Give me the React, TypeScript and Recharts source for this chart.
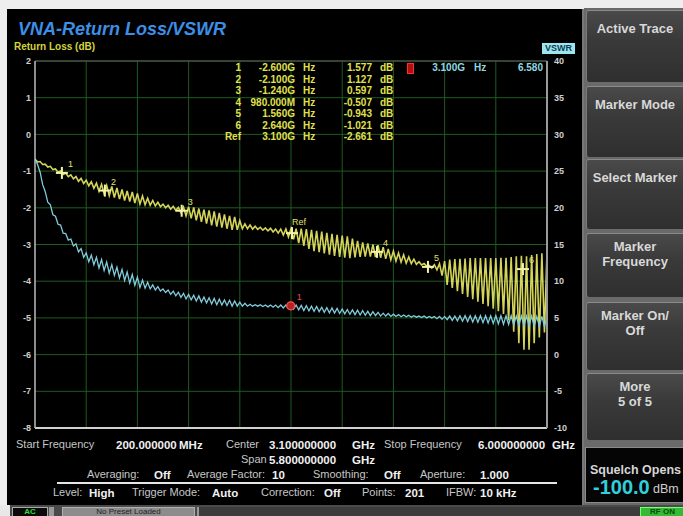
import React from 'react';
import { ComposedChart, Line, XAxis, YAxis, CartesianGrid, ReferenceLine, Scatter } from 'recharts';

const FONT = '"Liberation Sans", Arial, sans-serif';

// Return loss trace (yellow), dB, 201 sweep points
const yellowTrace = [
  -0.68, -0.75, -0.74, -0.82, -0.81, -0.89, -0.87, -0.96, -0.94, -1.03, -1.00,
  -1.09, -1.05, -1.15, -1.10, -1.21, -1.15, -1.28, -1.20, -1.34, -1.25, -1.40, -1.29, -1.47, -1.33, -1.55, -1.36, -1.62,
  -1.39, -1.67, -1.42, -1.72, -1.46, -1.76, -1.50, -1.80, -1.54, -1.83, -1.57, -1.87, -1.61, -1.90, -1.68, -1.92, -1.74, -1.93,
  -1.80, -1.95, -1.85, -1.97, -1.90, -2.00, -1.93, -2.04, -1.96, -2.07, -1.99, -2.13,
  -1.98, -2.22, -1.97, -2.29, -1.99, -2.34, -2.02, -2.38, -2.05, -2.43, -2.07, -2.48, -2.10,
  -2.51, -2.14, -2.54, -2.18, -2.57, -2.22, -2.60, -2.25, -2.60, -2.35, -2.57, -2.44,
  -2.57, -2.47, -2.58, -2.50, -2.59, -2.53, -2.61, -2.55, -2.63, -2.56, -2.66, -2.58, -2.69, -2.58, -2.74, -2.58, -2.79, -2.57,
  -2.86, -2.57, -2.96, -2.57, -3.04, -2.58, -3.12, -2.60, -3.18, -2.63, -3.21, -2.65, -3.24, -2.68, -3.28, -2.71, -3.31,
  -2.74, -3.34, -2.76, -3.36, -2.78, -3.37, -2.84, -3.35, -2.90, -3.34, -2.94, -3.33, -2.97, -3.33, -3.00, -3.34, -3.02,
  -3.36, -3.07, -3.39, -3.12, -3.42, -3.18, -3.45, -3.23, -3.48, -3.28, -3.51, -3.34, -3.52, -3.40, -3.54, -3.47, -3.56, -3.52, -3.59, -3.57,
  -3.64, -3.55, -3.69, -3.52, -3.85, -3.45, -4.10, -3.41, -4.18, -3.40, -4.27, -3.39, -4.35, -3.38, -4.43, -3.37,
  -4.49, -3.37, -4.56, -3.37, -4.62, -3.37, -4.68, -3.37, -4.75, -3.37, -4.82, -3.36, -4.89, -3.36, -5.07, -3.34,
  -5.38, -3.32, -5.69, -3.31, -5.87, -3.32, -5.87, -3.29, -5.69, -3.26, -5.53, -3.24, -5.40, -3.21,
];

// Second trace (cyan), dB, 201 sweep points
const cyanTrace = [
  -0.66, -0.82, -1.03, -1.37, -1.56, -1.85, -1.92, -2.19, -2.23, -2.45, -2.47, -2.69, -2.70, -2.88, -2.85, -3.04,
  -2.98, -3.20, -3.11, -3.35, -3.23,
  -3.47, -3.29, -3.55, -3.35, -3.64, -3.41, -3.71, -3.48, -3.78, -3.55,
  -3.84, -3.62, -3.91, -3.68, -3.98, -3.75, -4.05, -3.82, -4.11, -3.89, -4.17,
  -3.97, -4.19, -4.03, -4.21, -4.10, -4.24, -4.15, -4.27, -4.21,
  -4.31, -4.24, -4.36, -4.27, -4.40, -4.30, -4.44, -4.33, -4.48, -4.36,
  -4.51, -4.38, -4.54, -4.40, -4.57, -4.43, -4.59, -4.45, -4.62, -4.47,
  -4.64, -4.49, -4.65, -4.51, -4.66, -4.52, -4.68, -4.54, -4.68, -4.57, -4.68, -4.60, -4.68,
  -4.63, -4.68, -4.64, -4.68, -4.64, -4.69, -4.65, -4.70, -4.65, -4.71, -4.65, -4.72, -4.65, -4.73, -4.65, -4.74, -4.65,
  -4.76, -4.65, -4.78, -4.66, -4.80, -4.67, -4.81, -4.68, -4.82, -4.69, -4.83, -4.71, -4.85, -4.72, -4.86, -4.73, -4.87, -4.74, -4.88, -4.76,
  -4.89, -4.77, -4.90, -4.78, -4.91, -4.79, -4.92, -4.80, -4.93, -4.82, -4.94, -4.83, -4.94, -4.85, -4.95, -4.87, -4.95, -4.88, -4.96, -4.90,
  -4.96, -4.91, -4.97, -4.92, -4.97, -4.93, -4.98, -4.94, -4.98, -4.95, -4.99, -4.95, -5.00, -4.96, -5.00, -4.96, -5.02, -4.96, -5.04, -4.96,
  -5.05, -4.95, -5.07, -4.95, -5.08, -4.94, -5.09, -4.94, -5.10, -4.94, -5.11, -4.94, -5.12, -4.94, -5.13, -4.94, -5.14, -4.94, -5.15, -4.94,
  -5.16, -4.94, -5.17, -4.94, -5.18, -4.94, -5.19, -4.95, -5.20, -4.95, -5.21, -4.95, -5.21, -4.95, -5.22, -4.96, -5.23, -4.96, -5.24, -4.96,
];

const gridPoints = [0, 20, 40, 60, 80, 100, 120, 140, 160, 180, 200];
const leftTicks = [2, 1, 0, -1, -2, -3, -4, -5, -6, -7, -8];
const rightTicks = [40, 35, 30, 25, 20, 15, 10, 5, 0, -5, -10];

const markerLabels = ['1', '2', '3', 'Ref', '4', '5', '6'];
const markerPoint = [10.5, 27.3, 57.3, 100.4, 133.6, 153.5, 190.6];
const markerLevel = [-1.05, -1.53, -2.08, -2.69, -3.2, -3.61, -3.67];
const redMarkerPoint = [99.9];
const redMarkerLevel = [-4.67];

const tableNums = ['1', '2', '3', '4', '5', '6', 'Ref'];
const tableFreqs = ['-2.600G', '-2.100G', '-1.240G', '980.000M', '1.560G', '2.640G', '3.100G'];
const tableDb = ['1.577', '1.127', '0.597', '-0.507', '-0.943', '-1.021', '-2.661'];

const buttonLabels = [['Active Trace'], ['Marker Mode'], ['Select Marker'], ['Marker', 'Frequency'], ['Marker On/', 'Off'], ['More', '5 of 5']];
const buttonTops = [10, 86, 159, 233, 302, 373];
const buttonBottoms = [82, 157, 229, 297, 370, 440];

type InfoItem = { t: string; x: number; y: number; b: boolean };
const infoItems: InfoItem[] = [
  { t: 'Start Frequency', x: 16, y: 445, b: false },
  { t: '200.000000', x: 116, y: 445, b: true },
  { t: 'MHz', x: 179, y: 445, b: true },
  { t: 'Center', x: 226, y: 445, b: false },
  { t: '3.100000000', x: 269, y: 445, b: true },
  { t: 'GHz', x: 352, y: 445, b: true },
  { t: 'Stop Frequency', x: 384, y: 445, b: false },
  { t: '6.000000000', x: 478, y: 445, b: true },
  { t: 'GHz', x: 552, y: 445, b: true },
  { t: 'Span', x: 241, y: 460, b: false },
  { t: '5.800000000', x: 269, y: 460, b: true },
  { t: 'GHz', x: 352, y: 460, b: true },
  { t: 'Averaging:', x: 87, y: 475, b: false },
  { t: 'Off', x: 154, y: 475, b: true },
  { t: 'Average Factor:', x: 187, y: 475, b: false },
  { t: '10', x: 272, y: 475, b: true },
  { t: 'Smoothing:', x: 313, y: 475, b: false },
  { t: 'Off', x: 384, y: 475, b: true },
  { t: 'Aperture:', x: 420, y: 475, b: false },
  { t: '1.000', x: 480, y: 475, b: true },
  { t: 'Level:', x: 53, y: 493, b: false },
  { t: 'High', x: 89, y: 493, b: true },
  { t: 'Trigger Mode:', x: 132, y: 493, b: false },
  { t: 'Auto', x: 212, y: 493, b: true },
  { t: 'Correction:', x: 261, y: 493, b: false },
  { t: 'Off', x: 324, y: 493, b: true },
  { t: 'Points:', x: 362, y: 493, b: false },
  { t: '201', x: 405, y: 493, b: true },
  { t: 'IFBW:', x: 446, y: 493, b: false },
  { t: '10 kHz', x: 480, y: 493, b: true },
];

const chartData = yellowTrace.map((v, i) => ({ i, y: v, c: cyanTrace[i] }));
const markerData = markerLabels.map((label, k) => ({ i: markerPoint[k], v: markerLevel[k], label }));
const redMarkerData = redMarkerPoint.map((p, k) => ({ i: p, v: redMarkerLevel[k], label: '1' }));

function Txt(props: {
  x: number; y: number; size?: number; bold?: boolean; italic?: boolean; color?: string;
  align?: 'left' | 'right' | 'center'; children: React.ReactNode;
}) {
  const { x, y, size = 11, bold = false, italic = false, color = '#c9c9c9', align = 'left', children } = props;
  const tr = align === 'right' ? 'translateX(-100%)' : align === 'center' ? 'translateX(-50%)' : undefined;
  return (
    <div
      style={{
        position: 'absolute', left: x, top: y - size * 0.6, fontSize: size, lineHeight: `${Math.round(size * 1.2)}px`,
        fontWeight: bold ? 700 : 400, fontStyle: italic ? 'italic' : 'normal', color, whiteSpace: 'nowrap',
        transform: tr, fontFamily: FONT,
      }}
    >
      {children}
    </div>
  );
}

function Box(props: { x: number; y: number; w: number; h: number; style?: React.CSSProperties; children?: React.ReactNode }) {
  return (
    <div style={{ position: 'absolute', left: props.x, top: props.y, width: props.w, height: props.h, boxSizing: 'border-box', ...props.style }}>
      {props.children}
    </div>
  );
}

const YellowMarker = (p: any) => {
  const { cx, cy, payload } = p;
  if (cx == null || cy == null) return null;
  const isRef = payload.label === 'Ref';
  return (
    <g>
      <line x1={cx - 6} x2={cx + 6} y1={cy} y2={cy} stroke="#f4f4a8" strokeWidth={2} />
      <line x1={cx} x2={cx} y1={cy - 6} y2={cy + 6} stroke="#f4f4a8" strokeWidth={2} />
      <text x={isRef ? cx : cx + 6} y={isRef ? cy - 8 : cy - 6} fill="#e2e26a" fontSize={9} fontFamily={FONT}>
        {payload.label}
      </text>
    </g>
  );
};

const RedMarker = (p: any) => {
  const { cx, cy, payload } = p;
  if (cx == null || cy == null) return null;
  return (
    <g>
      <circle cx={cx} cy={cy} r={4} fill="#b82222" stroke="#ff5050" strokeWidth={1.2} />
      <text x={cx + 6} y={cy - 6} fill="#e05050" fontSize={9} fontFamily={FONT}>{payload.label}</text>
    </g>
  );
};

const EmptyTick = () => <g />;

const tickStyle = { fill: '#cfcfcf', fontSize: 9, fontWeight: 700, fontFamily: FONT };

export default function App() {
  return (
    <div style={{ position: 'fixed', left: 0, top: 0, width: 683, height: 516, background: '#eeeeee', overflow: 'hidden', fontFamily: FONT }}>
      {/* main black panel */}
      <Box x={7} y={9} w={577} h={496} style={{ background: '#000', borderRight: '2px solid #777' }} />

      {/* right button column */}
      <Box x={584} y={8} w={99} h={497} style={{ background: '#6a6a6a' }} />
      {buttonLabels.map((lines, k) => {
        const top = buttonTops[k];
        const h = buttonBottoms[k] - top;
        return (
          <Box
            key={k}
            x={586}
            y={top}
            w={100}
            h={h}
            style={{
              background: 'linear-gradient(#4a4a4a, #3a3a3a 40%, #2f2f2f)',
              borderTop: '1px solid #8a8a8a', borderLeft: '1px solid #7a7a7a', borderRadius: 3,
            }}
          >
            {lines.map((ln, j) => (
              <div
                key={j}
                style={{
                  position: 'absolute', left: 0, width: 96, textAlign: 'center',
                  top: (lines.length === 1 ? 18 : j === 0 ? 13 : 28) - 8,
                  fontSize: 13, lineHeight: '16px', fontWeight: 700, color: '#d8d8d8', whiteSpace: 'nowrap',
                }}
              >
                {ln}
              </div>
            ))}
          </Box>
        );
      })}
      {/* squelch box */}
      <Box x={585} y={447} w={100} h={56} style={{ background: '#050505', border: '1px solid #8a8a8a' }} />
      <Txt x={590} y={470} size={12.5} bold color="#d6d6d6">Squelch Opens</Txt>
      <Txt x={593} y={487} size={20} bold color="#2fd0de">-100.0</Txt>
      <Txt x={653} y={489} size={12.5} color="#cfcfcf">dBm</Txt>

      {/* status bar */}
      <Box x={0} y={505} w={683} h={11} style={{ background: '#4a4a4a' }} />
      <Box x={0} y={505} w={10} h={11} style={{ background: '#e8e8e8' }} />
      <Box x={12} y={507} w={36} h={9} style={{ background: '#0a0a0a', border: '1px solid #aaaaaa', borderBottom: 'none' }}>
        <div style={{ position: 'absolute', left: 0, width: 34, textAlign: 'center', top: 0, fontSize: 8, lineHeight: '8px', fontWeight: 700, color: '#33dd33' }}>AC</div>
      </Box>
      <Box x={49} y={507} w={5} h={9} style={{ background: '#9a9a9a' }} />
      <Box x={62} y={507} w={133} h={9} style={{ background: '#8c8c8c', border: '1px solid #b0b0b0', borderBottom: 'none' }}>
        <div style={{ position: 'absolute', left: 0, width: 131, textAlign: 'center', top: 0, fontSize: 8, lineHeight: '8px', color: '#222' }}>No Preset Loaded</div>
      </Box>
      <Box x={197} y={507} w={443} h={9} style={{ background: '#3c3c3c', borderLeft: '2px solid #999' }} />
      <Box x={640} y={507} w={45} h={9} style={{ background: '#33bb33', border: '1px solid #7f7', borderBottom: 'none' }}>
        <div style={{ position: 'absolute', left: 0, width: 43, textAlign: 'center', top: 0, fontSize: 8, lineHeight: '8px', fontWeight: 700, color: '#0a4a0a' }}>RF ON</div>
      </Box>

      {/* titles */}
      <Txt x={18} y={29} size={18} bold italic color="#3d8fe6">VNA-Return Loss/VSWR</Txt>
      <Txt x={14} y={47} size={10} bold color="#d4d43c">Return Loss (dB)</Txt>
      <Box x={542} y={43} w={33} h={11} style={{ background: '#9ee6ee' }}>
        <div style={{ position: 'absolute', left: 0, width: 33, textAlign: 'center', top: 0, fontSize: 9, lineHeight: '11px', fontWeight: 700, color: '#083a58' }}>VSWR</div>
      </Box>

      {/* chart */}
      <div style={{ position: 'absolute', left: 0, top: 0 }}>
        <ComposedChart width={683} height={516} data={chartData} margin={{ top: 61, right: 106, bottom: 87, left: 0 }}>
          <CartesianGrid yAxisId="l" stroke="#1f5a1f" strokeWidth={1} vertical={false} />
          <XAxis type="number" dataKey="i" domain={[0, 200]} ticks={gridPoints} interval={0} tick={EmptyTick} axisLine={false} tickLine={false} height={1} allowDataOverflow />
          <YAxis yAxisId="l" domain={[-8, 2]} ticks={leftTicks} interval={0} width={35} tickSize={0} tickMargin={4} tickLine={false}
            axisLine={{ stroke: '#bdbdbd', strokeWidth: 1.5 }} tick={tickStyle} allowDataOverflow />
          <YAxis yAxisId="r" orientation="right" domain={[-10, 40]} ticks={rightTicks} interval={0} width={30} tickSize={0} tickMargin={7}
            tickLine={false} axisLine={{ stroke: '#9a9a9a', strokeWidth: 2 }} tick={{ ...tickStyle, textAnchor: 'start' }} allowDataOverflow />
          {gridPoints.slice(1, -1).map((g) => (
            <ReferenceLine key={g} yAxisId="l" x={g} stroke="#1f5a1f" strokeWidth={1} />
          ))}
          <ReferenceLine yAxisId="l" y={2} stroke="#5a5a5a" strokeWidth={1} />
          <ReferenceLine yAxisId="l" y={-8} stroke="#d0d0d0" strokeWidth={2} />
          <Line yAxisId="l" type="linear" dataKey="y" stroke="#d4d45a" strokeWidth={1.6} dot={false} isAnimationActive={false} />
          <Line yAxisId="l" type="linear" dataKey="c" stroke="#80cbdc" strokeWidth={1.3} dot={false} isAnimationActive={false} />
          <Scatter yAxisId="l" data={markerData} dataKey="v" shape={YellowMarker} isAnimationActive={false} />
          <Scatter yAxisId="l" data={redMarkerData} dataKey="v" shape={RedMarker} isAnimationActive={false} />
        </ComposedChart>
      </div>

      {/* marker table */}
      {tableNums.map((n, k) => {
        const y = 68 + k * 11.5;
        return (
          <React.Fragment key={k}>
            <Txt x={241} y={y} size={10} bold color="#e0e050" align="right">{n}</Txt>
            <Txt x={295} y={y} size={10} bold color="#e0e050" align="right">{tableFreqs[k]}</Txt>
            <Txt x={303} y={y} size={10} bold color="#e0e050">Hz</Txt>
            <Txt x={372} y={y} size={10} bold color="#e0e050" align="right">{tableDb[k]}</Txt>
            <Txt x={380} y={y} size={10} bold color="#e0e050">dB</Txt>
          </React.Fragment>
        );
      })}
      <Box x={407} y={63} w={7} h={11} style={{ background: '#b01010', border: '1px solid #ff3030' }} />
      <Txt x={465} y={68} size={10} bold color="#8fd8e0" align="right">3.100G</Txt>
      <Txt x={474} y={68} size={10} bold color="#8fd8e0">Hz</Txt>
      <Txt x={543} y={68} size={10} bold color="#8fd8e0" align="right">6.580</Txt>

      {/* info panel */}
      {infoItems.map((it, k) => (
        <Txt key={k} x={it.x} y={it.y} size={it.b ? 11.5 : 11} bold={it.b} color={it.b ? '#f0f0f0' : '#c6c6c6'}>{it.t}</Txt>
      ))}
      <Box x={57} y={482} w={500} h={2} style={{ background: '#e6e6e6' }} />
    </div>
  );
}
